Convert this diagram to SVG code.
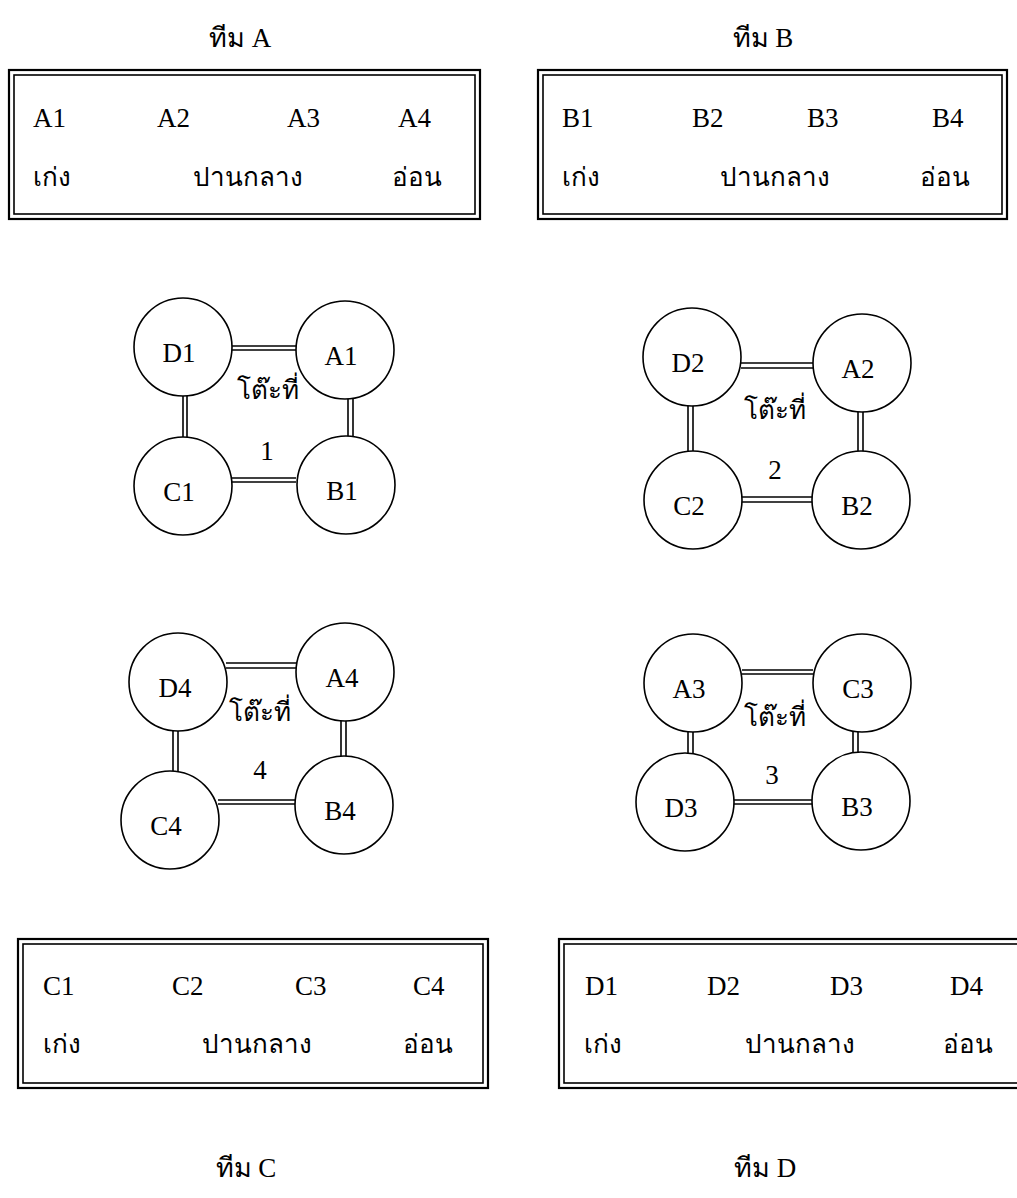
<svg xmlns="http://www.w3.org/2000/svg" width="1017" height="1198" viewBox="0 0 1017 1198">
<style>
text{font-family:"Liberation Serif","Times New Roman",serif;fill:#000}
.t{font-size:27px}
.th{font-size:26px}
.ttl{font-size:27px;text-anchor:middle}
.c{font-size:27px;text-anchor:middle}
.ct{font-size:26px;text-anchor:middle}
.box1{fill:none;stroke:#000;stroke-width:2.2}
.box2{fill:none;stroke:#000;stroke-width:1.6}
.seat{fill:#fff;stroke:#000;stroke-width:1.6}
.con line{stroke:#000;stroke-width:1.6}
</style>
<rect width="1017" height="1198" fill="#fff"/>

<g id="teamA">
<text class="ttl" x="240" y="47">ทีม  A</text>
<rect class="box1" x="9" y="70" width="471" height="149"/>
<rect class="box2" x="14" y="75" width="461" height="139"/>
<text class="t" x="33" y="127">A1</text><text class="t" x="157" y="127">A2</text><text class="t" x="287" y="127">A3</text><text class="t" x="398" y="127">A4</text>
<text class="th" x="33" y="186">เก่ง</text><text class="th" x="193" y="186">ปานกลาง</text><text class="th" x="392" y="186">อ่อน</text>
</g>
<g id="teamB">
<text class="ttl" x="763" y="47">ทีม  B</text>
<rect class="box1" x="538" y="70" width="469" height="149"/>
<rect class="box2" x="543" y="75" width="459" height="139"/>
<text class="t" x="562" y="127">B1</text><text class="t" x="692" y="127">B2</text><text class="t" x="807" y="127">B3</text><text class="t" x="932" y="127">B4</text>
<text class="th" x="562" y="186">เก่ง</text><text class="th" x="720" y="186">ปานกลาง</text><text class="th" x="920" y="186">อ่อน</text>
</g>
<g id="teamC">
<text class="ttl" x="246" y="1177">ทีม  C</text>
<rect class="box1" x="18" y="939" width="470" height="149"/>
<rect class="box2" x="23" y="944" width="460" height="139"/>
<text class="t" x="43" y="995">C1</text><text class="t" x="172" y="995">C2</text><text class="t" x="295" y="995">C3</text><text class="t" x="413" y="995">C4</text>
<text class="th" x="43" y="1053">เก่ง</text><text class="th" x="202" y="1053">ปานกลาง</text><text class="th" x="403" y="1053">อ่อน</text>
</g>
<g id="teamD">
<text class="ttl" x="765" y="1177">ทีม  D</text>
<rect class="box1" x="559" y="939" width="470" height="149"/>
<rect class="box2" x="564" y="944" width="460" height="139"/>
<text class="t" x="585" y="995">D1</text><text class="t" x="707" y="995">D2</text><text class="t" x="830" y="995">D3</text><text class="t" x="950" y="995">D4</text>
<text class="th" x="584" y="1053">เก่ง</text><text class="th" x="745" y="1053">ปานกลาง</text><text class="th" x="943" y="1053">อ่อน</text>
</g>

<g id="connectors" class="con">
<line x1="232" y1="346" x2="296" y2="346"/><line x1="232" y1="350" x2="296" y2="350"/>
<line x1="183" y1="396" x2="183" y2="438"/><line x1="187" y1="396" x2="187" y2="438"/>
<line x1="348" y1="398" x2="348" y2="436"/><line x1="353" y1="398" x2="353" y2="436"/>
<line x1="232" y1="478" x2="296" y2="478"/><line x1="232" y1="482" x2="296" y2="482"/>

<line x1="741" y1="363" x2="813" y2="363"/><line x1="741" y1="368" x2="813" y2="368"/>
<line x1="688" y1="405" x2="688" y2="451"/><line x1="693" y1="405" x2="693" y2="451"/>
<line x1="858" y1="411" x2="858" y2="451"/><line x1="863" y1="411" x2="863" y2="451"/>
<line x1="742" y1="497" x2="812" y2="497"/><line x1="742" y1="502" x2="812" y2="502"/>

<line x1="226" y1="663" x2="297" y2="663"/><line x1="226" y1="668" x2="297" y2="668"/>
<line x1="173" y1="730" x2="173" y2="771"/><line x1="178" y1="730" x2="178" y2="771"/>
<line x1="341" y1="721" x2="341" y2="756"/><line x1="346" y1="721" x2="346" y2="756"/>
<line x1="218" y1="800" x2="295" y2="800"/><line x1="218" y1="804" x2="295" y2="804"/>

<line x1="742" y1="670" x2="813" y2="670"/><line x1="742" y1="674" x2="813" y2="674"/>
<line x1="688" y1="731" x2="688" y2="755"/><line x1="693" y1="731" x2="693" y2="755"/>
<line x1="853" y1="731" x2="853" y2="754"/><line x1="858" y1="731" x2="858" y2="754"/>
<line x1="734" y1="800" x2="812" y2="800"/><line x1="734" y1="804" x2="812" y2="804"/>
</g>

<g id="table1">
<g id="D1"><circle class="seat" cx="183" cy="347" r="49"/><text class="c" x="179" y="362">D1</text></g>
<g id="A1"><circle class="seat" cx="345" cy="350" r="49"/><text class="c" x="341" y="365">A1</text></g>
<g id="C1"><circle class="seat" cx="183" cy="486" r="49"/><text class="c" x="179" y="501">C1</text></g>
<g id="B1"><circle class="seat" cx="346" cy="485" r="49"/><text class="c" x="342" y="500">B1</text></g>
<text class="ct" x="268" y="399">โต๊ะที่</text><text class="c" x="267" y="460">1</text>
</g>
<g id="table2">
<g id="D2"><circle class="seat" cx="692" cy="357" r="49"/><text class="c" x="688" y="372">D2</text></g>
<g id="A2"><circle class="seat" cx="862" cy="363" r="49"/><text class="c" x="858" y="378">A2</text></g>
<g id="C2"><circle class="seat" cx="693" cy="500" r="49"/><text class="c" x="689" y="515">C2</text></g>
<g id="B2"><circle class="seat" cx="861" cy="500" r="49"/><text class="c" x="857" y="515">B2</text></g>
<text class="ct" x="775" y="419">โต๊ะที่</text><text class="c" x="775" y="479">2</text>
</g>
<g id="table4">
<g id="D4"><circle class="seat" cx="178" cy="682" r="49"/><text class="c" x="175" y="697">D4</text></g>
<g id="A4"><circle class="seat" cx="345" cy="672" r="49"/><text class="c" x="342" y="687">A4</text></g>
<g id="C4"><circle class="seat" cx="170" cy="820" r="49"/><text class="c" x="166" y="835">C4</text></g>
<g id="B4"><circle class="seat" cx="344" cy="805" r="49"/><text class="c" x="340" y="820">B4</text></g>
<text class="ct" x="260" y="721">โต๊ะที่</text><text class="c" x="260" y="779">4</text>
</g>
<g id="table3">
<g id="A3"><circle class="seat" cx="693" cy="683" r="49"/><text class="c" x="689" y="698">A3</text></g>
<g id="C3"><circle class="seat" cx="862" cy="683" r="49"/><text class="c" x="858" y="698">C3</text></g>
<g id="D3"><circle class="seat" cx="685" cy="802" r="49"/><text class="c" x="681" y="817">D3</text></g>
<g id="B3"><circle class="seat" cx="861" cy="801" r="49"/><text class="c" x="857" y="816">B3</text></g>
<text class="ct" x="775" y="726">โต๊ะที่</text><text class="c" x="772" y="784">3</text>
</g>
</svg>
